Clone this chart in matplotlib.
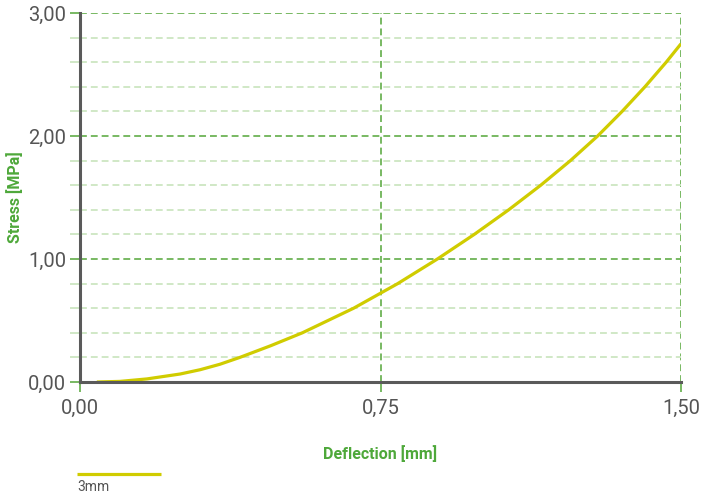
import matplotlib
matplotlib.use("Agg")
import matplotlib.pyplot as plt
from matplotlib.lines import Line2D
from matplotlib.ticker import MultipleLocator, FuncFormatter

# Data
deflection = [0.042, 0.10, 0.167, 0.25, 0.30, 0.349, 0.399, 0.476, 0.555,
              0.683, 0.793, 0.892, 0.984, 1.070, 1.150, 1.224, 1.292,
              1.353, 1.410, 1.463, 1.50]
stress = [0.0, 0.005, 0.025, 0.065, 0.10, 0.144, 0.20, 0.295, 0.40,
          0.60, 0.80, 1.00, 1.20, 1.40, 1.60, 1.80, 2.00,
          2.20, 2.40, 2.60, 2.75]
series_name = "3mm"
x_ticks = [0.0, 0.75, 1.5]
y_ticks = [0.0, 1.0, 2.0, 3.0]

line_color = "#d0cc00"
major_grid = "#6db356"
minor_grid = "#cde6c2"
axis_color = "#5a5a5a"
text_color = "#555555"
label_green = "#4ea83a"

plt.rcParams['font.family'] = ['Roboto', 'DejaVu Sans']

fig = plt.figure(figsize=(7.04, 4.99), dpi=100)
ax = fig.add_axes([80/704, 1 - 382/499, (681-80)/704, (382-13)/499])

ax.plot(deflection, stress, color=line_color, lw=2.3, solid_capstyle='butt',
        solid_joinstyle='round', zorder=3)

ax.set_xlim(0, 1.5)
ax.set_ylim(0, 3)
ax.set_xticks(x_ticks)
ax.set_yticks(y_ticks)
ax.yaxis.set_minor_locator(MultipleLocator(0.2))
fmt = FuncFormatter(lambda v, p: f"{v:.2f}".replace(".", ","))
ax.xaxis.set_major_formatter(fmt)
ax.yaxis.set_major_formatter(fmt)

dash = (0, (3.8, 2.2))
ax.grid(which='major', axis='both', color=major_grid, ls=dash, lw=1.3, zorder=1)
ax.grid(which='minor', axis='y', color=minor_grid, ls=dash, lw=1.3, zorder=1)

for s in ['top', 'right']:
    ax.spines[s].set_visible(False)
for s in ['left', 'bottom']:
    ax.spines[s].set_color(axis_color)
    ax.spines[s].set_linewidth(2.2)
    ax.spines[s].set_zorder(4)

ax.tick_params(axis='both', which='major', length=7, width=1.3, color=major_grid,
               labelsize=14.5, labelcolor=text_color, pad=3)
ax.tick_params(axis='y', which='minor', length=7, width=1.3, color=minor_grid)
ax.tick_params(axis='x', which='major', pad=5)

ax.set_xlabel("Deflection [mm]", fontsize=11.5, fontweight='bold', color=label_green, labelpad=0)
ax.xaxis.set_label_coords(0.5, (382-454)/369)
ax.set_ylabel("Stress [MPa]", fontsize=11.5, fontweight='bold', color=label_green)
ax.yaxis.set_label_coords(-(80-15)/601, 0.5)
ax.xaxis.label.set_va('center')
ax.yaxis.label.set_va('center')

# Legend
fig.add_artist(Line2D([77/704, 161/704], [1 - 474/499, 1 - 474/499],
                      color=line_color, lw=2.3, solid_capstyle='butt'))
fig.text(77/704, 1 - 487/499, series_name, fontsize=10, color=text_color,
         ha='left', va='center')

fig.savefig("out.png", dpi=100)
